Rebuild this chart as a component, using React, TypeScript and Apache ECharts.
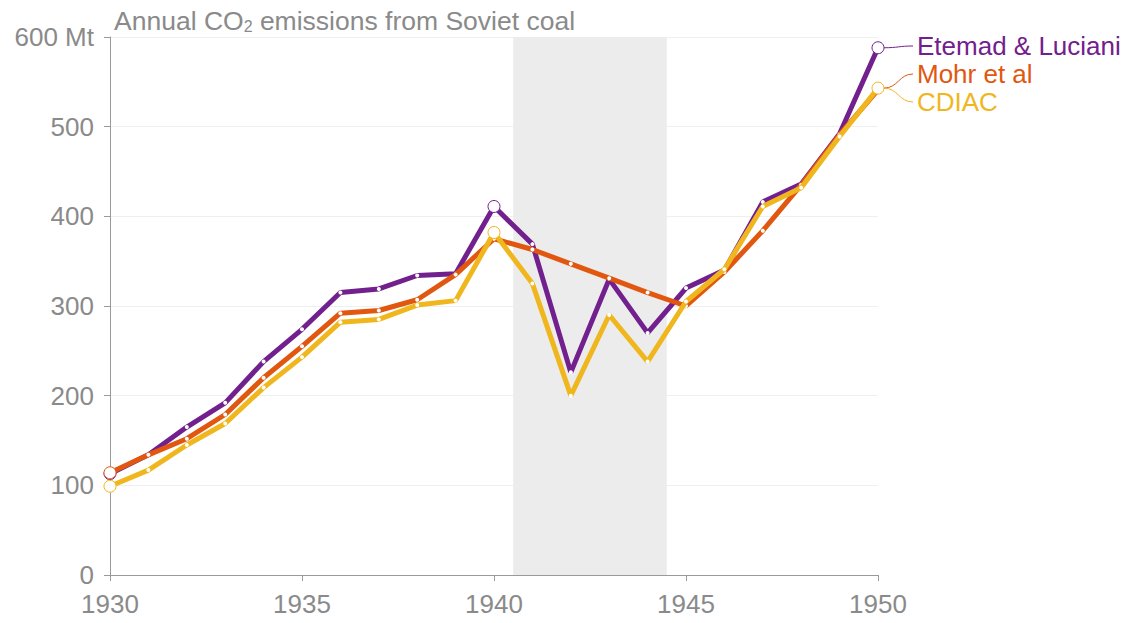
import React, { useEffect, useRef } from "react";
import * as echarts from "echarts";

const years = [1930, 1931, 1932, 1933, 1934, 1935, 1936, 1937, 1938, 1939, 1940, 1941, 1942, 1943, 1944, 1945, 1946, 1947, 1948, 1949, 1950];
const etemad = [113, 134, 165, 192, 238, 274, 315, 319, 334, 336, 411, 369, 226, 330, 270, 320, 340, 416, 436, 492, 588];
const mohr = [114, 134, 152, 179, 220, 255, 292, 295, 307, 335, 375, 363, 347, 331, 315, 300, 338, 384, 435, 491, 541];
const cdiac = [99, 117, 145, 169, 209, 243, 282, 285, 301, 306, 382, 325, 200, 290, 238, 305, 341, 411, 432, 489, 543];
const seriesNames = ["Etemad & Luciani", "Mohr et al", "CDIAC"];
const seriesColors = ["#72208d", "#e1570f", "#f0b61e"];
const highlightYears = [[1930, 1940, 1950], [1930], [1930, 1940, 1950]];
const warBand = [1940.5, 1944.5];
const yTicks = [0, 100, 200, 300, 400, 500, 600];
const xTicks = [1930, 1935, 1940, 1945, 1950];

const FONT = "'Liberation Sans', Arial, Helvetica, sans-serif";
const GREY = "#8a8a8a";

export default function App() {
  const ref = useRef<HTMLDivElement>(null);
  useEffect(() => {
    if (!ref.current) return;
    const chart = echarts.init(ref.current, null, { renderer: "svg" });
    const allValues = [etemad, mohr, cdiac];
    const series: any[] = allValues.map((vals, si) => ({
      type: "line",
      name: seriesNames[si],
      z: 3 + si,
      data: years.map((y, i) => {
        const big = highlightYears[si].includes(y);
        return {
          value: [y, vals[i]],
          symbolSize: big ? 12 : 4,
          itemStyle: big
            ? { color: "#ffffff", borderColor: seriesColors[si], borderWidth: 1 }
            : { color: "#ffffff", borderWidth: 0 },
        };
      }),
      symbol: "circle",
      showAllSymbol: true,
      lineStyle: { color: seriesColors[si], width: 5 },
      itemStyle: { color: seriesColors[si] },
      emphasis: { disabled: true },
      markArea: si === 0
        ? {
            silent: true,
            itemStyle: { color: "#ececec" },
            data: [[{ xAxis: warBand[0] }, { xAxis: warBand[1] }]],
          }
        : undefined,
    }));
    chart.setOption({
      animation: false,
      grid: { left: 110, right: 260, top: 37, bottom: 48 },
      title: {
        text: "Annual CO{sub|2} emissions from Soviet coal",
        left: 109,
        top: 2,
        textStyle: {
          color: GREY,
          fontFamily: FONT,
          fontSize: 26.5,
          fontWeight: "normal",
          rich: {
            sub: { fontSize: 16, color: GREY, fontFamily: FONT, verticalAlign: "bottom", padding: [11, 0, 0, 0] },
          },
        },
      },
      xAxis: {
        type: "value",
        min: xTicks[0],
        max: xTicks[xTicks.length - 1],
        interval: 5,
        axisLine: { show: true, lineStyle: { color: "#9a9a9a", width: 1 } },
        axisTick: { show: true, length: 6, lineStyle: { color: "#9a9a9a" } },
        splitLine: { show: false },
        axisLabel: { color: GREY, fontSize: 26, fontFamily: FONT, margin: 16, formatter: (v: number) => String(v) },
      },
      yAxis: {
        type: "value",
        min: yTicks[0],
        max: yTicks[yTicks.length - 1],
        interval: 100,
        axisLine: { show: true, lineStyle: { color: "#9a9a9a", width: 1 } },
        axisTick: { show: true, length: 6, lineStyle: { color: "#9a9a9a" } },
        splitLine: { show: true, lineStyle: { color: "#efefef", width: 1 } },
        axisLabel: {
          color: GREY,
          fontSize: 26,
          fontFamily: FONT,
          margin: 16,
          formatter: (v: number) => (v === yTicks[yTicks.length - 1] ? `${v} Mt` : String(v)),
        },
      },
      series,
    });

    const last = years.length - 1;
    const endPts = allValues.map((vals) => chart.convertToPixel({ gridIndex: 0 }, [years[last], vals[last]]) as number[]);
    const labelX = 917;
    const labelYs = [46, 74, 102];
    const elements: any[] = [];
    endPts.forEach((p, si) => {
      const ly = labelYs[si];
      const sx = p[0] + 6;
      const sy = si === 1 ? endPts[2][1] : p[1];
      elements.push({
        type: "bezierCurve",
        silent: true,
        shape: { x1: sx, y1: sy, x2: labelX - 4, y2: ly, cpx1: sx + 14, cpy1: sy, cpx2: labelX - 18, cpy2: ly },
        style: { stroke: seriesColors[si], lineWidth: 1, fill: null },
        z: 10,
      });
      elements.push({
        type: "text",
        x: labelX,
        y: ly,
        silent: true,
        style: {
          text: seriesNames[si],
          fill: seriesColors[si],
          font: `26px ${FONT}`,
          verticalAlign: "middle",
        },
        z: 10,
      });
    });
    chart.setOption({ graphic: { elements } });

    return () => chart.dispose();
  }, []);
  return <div ref={ref} style={{ width: 1138, height: 623, position: "absolute", left: 0, top: 0 }} />;
}
